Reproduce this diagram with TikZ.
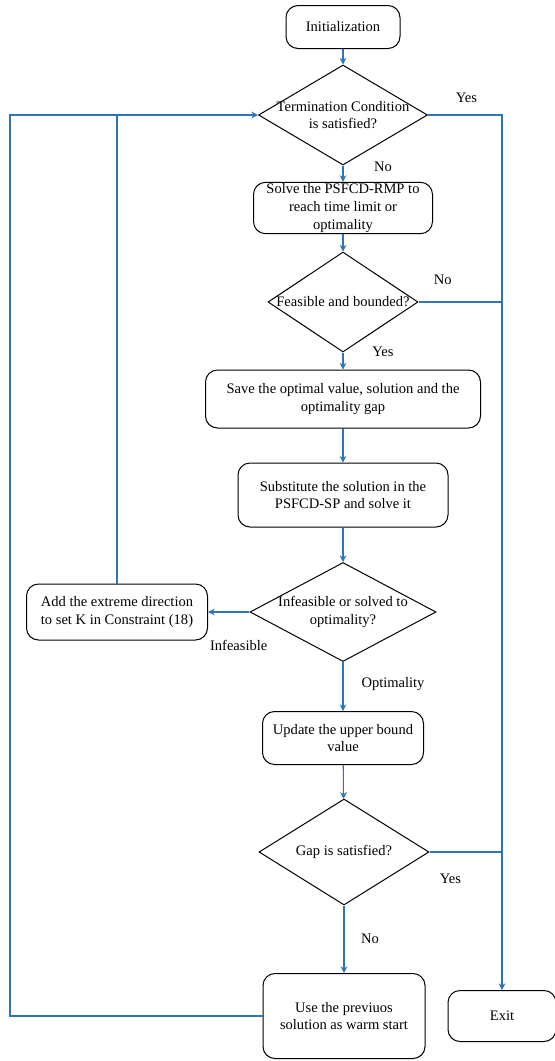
\documentclass[tikz,border=0pt]{standalone}
\usepackage{fontspec}
\setmainfont{Liberation Serif}
\usetikzlibrary{shapes.geometric,arrows.meta}
\definecolor{flowblue}{RGB}{46,117,182}

\begin{document}
\begin{tikzpicture}[
  x=0.75pt, y=-0.75pt,
  nd/.style={draw, rounded corners=9pt, line width=0.75pt, align=center,
    inner sep=1pt, font=\fontsize{10.9}{13.3}\selectfont},
  dc/.style={draw, diamond, line width=0.75pt, inner sep=0pt},
  dtxt/.style={align=center, inner sep=0pt, font=\fontsize{10.9}{13.3}\selectfont},
  arr/.style={-{Stealth[length=5pt, width=5pt]}, flowblue, line width=0.8pt},
  ln/.style={flowblue, line width=0.8pt},
  lbl/.style={inner sep=0pt, text=black, font=\fontsize{10.9}{13.3}\selectfont}
]
\useasboundingbox (0,0) rectangle (555,1061);

% main column
\node[nd, minimum width=85.5pt, minimum height=32.25pt] (init) at (343,27) {Initialization};
\node[dc, minimum width=126.75pt, minimum height=75pt,
  label={[dtxt]center:{Termination Condition\\is satisfied?}}] (term) at (343,115) {};
\node[nd, minimum width=134.25pt, minimum height=38.25pt] (solve) at (343,208)
  {Solve the PSFCD-RMP to\\reach time limit or\\optimality};
\node[dc, minimum width=112.5pt, minimum height=75pt,
  label={[dtxt]center:{Feasible and bounded?}}] (feas) at (343,302) {};
\node[nd, minimum width=206.25pt, minimum height=43.5pt] (save) at (343,399)
  {Save the optimal value, solution and the\\optimality gap};
\node[nd, minimum width=157.5pt, minimum height=48pt] (subst) at (343,495)
  {Substitute the solution in the\\PSFCD-SP and solve it};
\node[dc, minimum width=139.5pt, minimum height=74.25pt,
  label={[dtxt]center:{Infeasible or solved to\\optimality?}}] (infeas) at (343,612) {};
\node[nd, minimum width=135.75pt, minimum height=42pt] (add) at (117,612)
  {Add the extreme direction\\to set K in Constraint (18)};
\node[nd, minimum width=120.75pt, minimum height=39.75pt] (upd) at (343,738)
  {Update the upper bound\\value};
\node[dc, minimum width=127.5pt, minimum height=79.5pt,
  label={[dtxt]center:{Gap is satisfied?}}] (gap) at (344,852) {};
\node[nd, minimum width=121.5pt, minimum height=63.75pt] (use) at (344,1016)
  {Use the previuos\\solution as warm start};
\node[nd, minimum width=81pt, minimum height=38.25pt] (exit) at (502,1016) {Exit};

% forward flow
\draw[arr] (init) -- (term);
\draw[arr] (term) -- node[lbl, xshift=30pt, yshift=5pt] {No} (solve);
\draw[arr] (solve) -- (feas);
\draw[arr] (feas) -- node[lbl, xshift=30pt, yshift=6.75pt] {Yes} (save);
\draw[arr] (save) -- (subst);
\draw[arr] (subst) -- (infeas);
\draw[arr] (infeas) -- node[lbl, pos=0.26, yshift=-24.75pt] {Infeasible} (add);
\draw[arr] (infeas) -- node[lbl, xshift=37.5pt, yshift=1.5pt] {Optimality} (upd);
\draw[arr] (upd) -- (gap);
\draw[arr] (gap) -- node[lbl, xshift=19.5pt] {No} (use);

% exits to the right
\draw[arr] (term.east) -| node[lbl, pos=0.26, yshift=12.75pt] {Yes} (exit.north);
\draw[ln] (feas.east) -- node[lbl, pos=0.29, yshift=16.5pt] {No} (feas.east -| exit.north);
\draw[ln] (gap.east) -- node[lbl, pos=0.29, yshift=-20.25pt] {Yes} (gap.east -| exit.north);

% loops back
\coordinate (back) at (10,115);
\draw[arr] (use.west) -| (back) -- (term.west);
\draw[ln] (add.north) -- (add.north |- term.west);
\end{tikzpicture}
\end{document}
